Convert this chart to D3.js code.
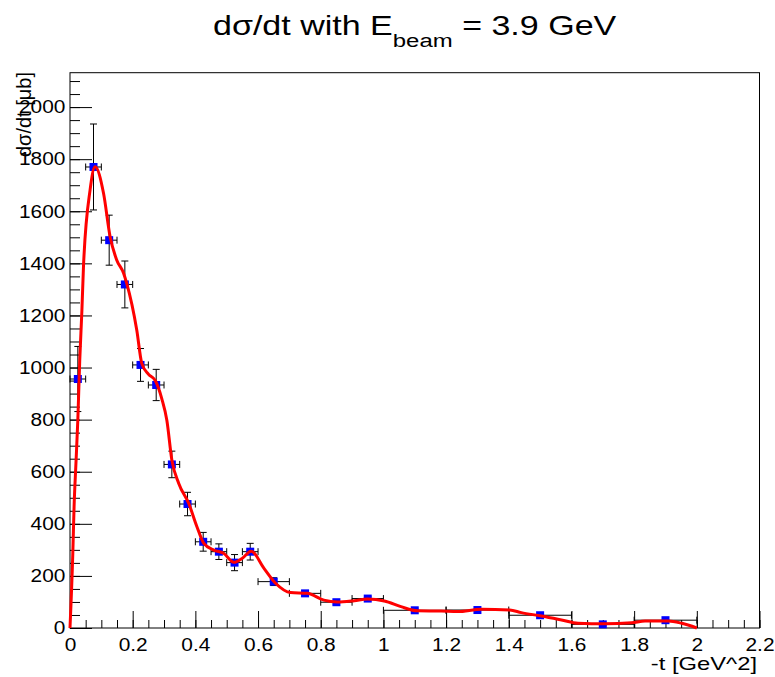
<!DOCTYPE html>
<html>
<head>
<meta charset="utf-8">
<script src="https://cdn.jsdelivr.net/npm/d3@7"></script>
<style>
  body { margin: 0; background: #fff; }
  svg { font-family: "Liberation Sans", Arial, Helvetica, sans-serif; }
</style>
</head>
<body>
<svg width="775" height="677"></svg>
<script>
// measured points (bin centre, half width, value, error)
const tCenters = [0.025, 0.075, 0.125, 0.175, 0.225, 0.275, 0.325, 0.375, 0.425, 0.475, 0.525, 0.575,
  0.65, 0.75, 0.85, 0.95, 1.1, 1.3, 1.5, 1.7, 1.9];
const tHalfWidths = [0.025, 0.025, 0.025, 0.025, 0.025, 0.025, 0.025, 0.025, 0.025, 0.025, 0.025, 0.025,
  0.05, 0.05, 0.05, 0.05, 0.1, 0.1, 0.1, 0.1, 0.1];
const xsecValues = [956, 1770, 1489, 1319, 1010, 933, 628, 476, 331, 293, 251, 293,
  178, 133, 99, 113, 68, 69, 49, 14, 30];
const xsecErrors = [125, 165, 96, 90, 63, 60, 51, 45, 36, 30, 31, 32,
  15, 10, 8, 8, 5, 5, 4, 3, 3];

// red smooth curve
const fitT = [0, 0.009, 0.013, 0.019, 0.025, 0.031, 0.038, 0.043, 0.064, 0.08, 0.107, 0.128, 0.149, 0.171,
  0.181, 0.213, 0.229, 0.25, 0.272, 0.293, 0.309, 0.325, 0.347, 0.379, 0.405, 0.427, 0.459, 0.49,
  0.523, 0.55, 0.578, 0.619, 0.656, 0.704, 0.757, 0.81, 0.853, 0.907, 0.949, 1.003, 1.056, 1.109,
  1.184, 1.237, 1.312, 1.403, 1.44, 1.504, 1.568, 1.621, 1.707, 1.792, 1.835, 1.909, 1.952, 2.0];
const fitXsec = [0, 288, 465, 633, 800, 1025, 1220, 1387, 1681, 1771, 1669, 1502, 1413, 1362,
  1323, 1144, 1016, 975, 950, 880, 798, 645, 555, 478, 389, 325, 299, 287,
  252, 268, 295, 229, 172, 136, 133, 107, 100, 105, 111, 104, 82, 66,
  65, 63, 72, 69, 59, 46, 31, 18, 16, 20, 27, 27, 18, 0];

const xMajorTicks = [0, 0.2, 0.4, 0.6, 0.8, 1, 1.2, 1.4, 1.6, 1.8, 2, 2.2];
const yMajorTicks = [0, 200, 400, 600, 800, 1000, 1200, 1400, 1600, 1800, 2000];

const svg = d3.select('svg');
const frame = { left: 70, right: 759.5, top: 72.7, bottom: 628 };

const xScale = d3.scaleLinear().domain([0, 2.2]).range([frame.left, frame.right]);
const yScale = d3.scaleLinear().domain([0, 2132]).range([frame.bottom, frame.top]);

const fmt = d => String(+d.toFixed(1));

// frame
svg.append('rect')
  .attr('x', frame.left).attr('y', frame.top)
  .attr('width', frame.right - frame.left)
  .attr('height', frame.bottom - frame.top)
  .attr('fill', 'none').attr('stroke', '#000').attr('stroke-width', 1);

// x axis: minor then major (ticks point inward)
const xMinorG = svg.append('g')
  .attr('transform', `translate(0,${frame.bottom})`)
  .call(d3.axisBottom(xScale).tickValues(d3.range(0, 2.2001, 0.05)).tickSize(-8).tickFormat(''));
const xAxisG = svg.append('g')
  .attr('transform', `translate(0,${frame.bottom})`)
  .call(d3.axisBottom(xScale).tickValues(xMajorTicks).tickSize(-17).tickPadding(10).tickFormat(fmt));

// y axis
const yMinorG = svg.append('g')
  .attr('transform', `translate(${frame.left},0)`)
  .call(d3.axisLeft(yScale).tickValues(d3.range(0, 2101, 50)).tickSize(-10).tickFormat(''));
const yAxisG = svg.append('g')
  .attr('transform', `translate(${frame.left},0)`)
  .call(d3.axisLeft(yScale).tickValues(yMajorTicks).tickSize(-22).tickPadding(4).tickFormat(d => d));

[xMinorG, xAxisG, yMinorG, yAxisG].forEach(g => {
  g.select('.domain').remove();
  g.selectAll('line').attr('stroke', '#000');
  g.selectAll('text').attr('font-size', 18).attr('fill', '#000')
    .attr('font-family', '"Liberation Sans", Arial, sans-serif')
    .attr('transform', 'scale(1.16,1)');
});

// axis titles
svg.append('text')
  .attr('transform', 'translate(757,670) scale(1.25,1)')
  .attr('text-anchor', 'end')
  .attr('font-size', 19)
  .text('-t [GeV^2]');

svg.append('text')
  .attr('transform', 'translate(31,72) rotate(-90)')
  .attr('text-anchor', 'end')
  .attr('font-size', 20)
  .text('dσ/dt [μb]');

// title
const title = svg.append('text')
  .attr('transform', 'translate(213,35) scale(1.26,1)')
  .attr('font-size', 27);
title.append('tspan').text('dσ/dt with E');
title.append('tspan').attr('font-size', 19).attr('dy', 12).text('beam');
title.append('tspan').attr('dy', -12).text(' = 3.9 GeV');

// points with error bars
const points = tCenters.map((t, i) => ({
  t, hw: tHalfWidths[i], v: xsecValues[i], e: xsecErrors[i]
}));

const pg = svg.append('g').attr('stroke', '#000').attr('stroke-width', 1);
const cap = 3.5;
points.forEach(d => {
  const cx = xScale(d.t), cy = yScale(d.v);
  const x0 = xScale(d.t - d.hw), x1 = xScale(d.t + d.hw);
  const y0 = yScale(d.v - d.e), y1 = yScale(d.v + d.e);
  pg.append('line').attr('x1', x0).attr('x2', x1).attr('y1', cy).attr('y2', cy);
  pg.append('line').attr('x1', x0).attr('x2', x0).attr('y1', cy - cap).attr('y2', cy + cap);
  pg.append('line').attr('x1', x1).attr('x2', x1).attr('y1', cy - cap).attr('y2', cy + cap);
  pg.append('line').attr('x1', cx).attr('x2', cx).attr('y1', y0).attr('y2', y1);
  pg.append('line').attr('x1', cx - cap).attr('x2', cx + cap).attr('y1', y0).attr('y2', y0);
  pg.append('line').attr('x1', cx - cap).attr('x2', cx + cap).attr('y1', y1).attr('y2', y1);
});

svg.append('g').selectAll('rect').data(points)
  .enter().append('rect')
    .attr('x', d => xScale(d.t) - 4)
    .attr('y', d => yScale(d.v) - 4)
    .attr('width', 8).attr('height', 8)
    .attr('fill', '#0000ff');

// red curve
const fitData = fitT.map((t, i) => [t, fitXsec[i]]);
const line = d3.line()
  .x(d => xScale(d[0]))
  .y(d => yScale(d[1]))
  .curve(d3.curveMonotoneX);

svg.append('path')
  .datum(fitData)
  .attr('d', line)
  .attr('fill', 'none')
  .attr('stroke', '#ff0000')
  .attr('stroke-width', 3)
  .attr('stroke-linejoin', 'round');
</script>
</body>
</html>
